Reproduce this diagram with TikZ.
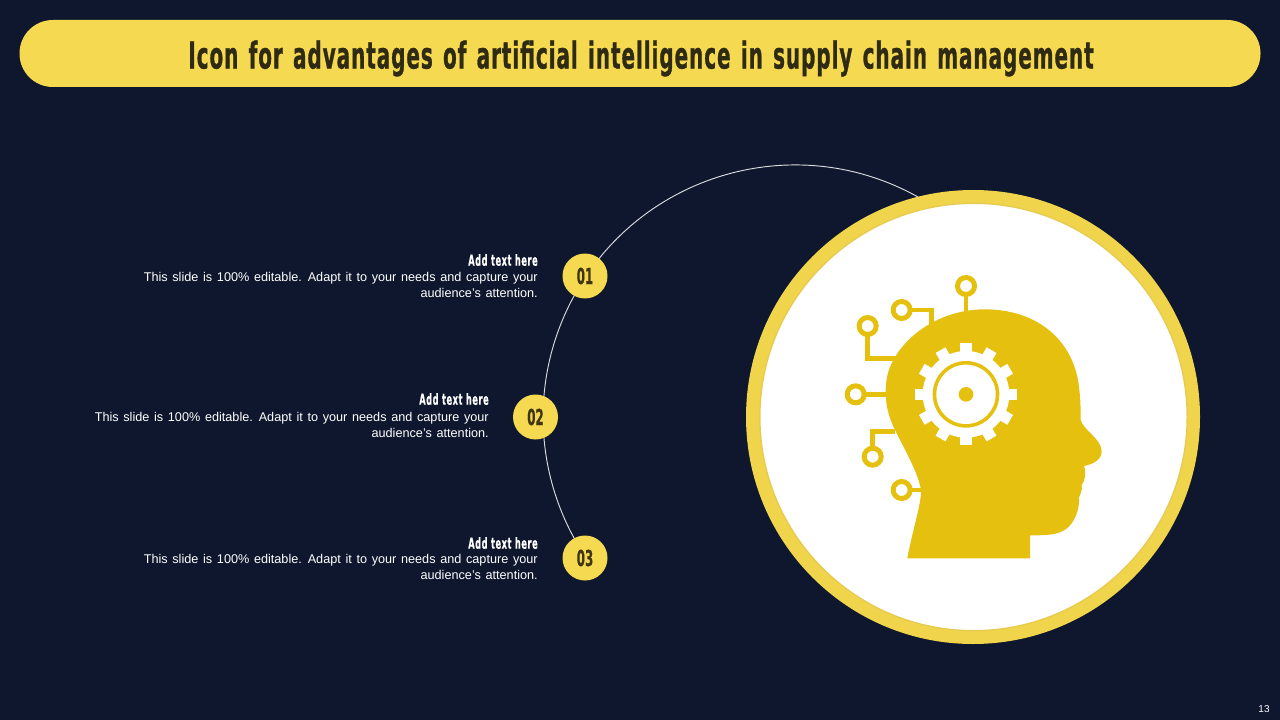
\documentclass[tikz,border=0pt]{standalone}
\usepackage{fontspec}
\setmainfont[WordSpace=1.33]{Liberation Sans}
\newfontfamily\headfont[FakeStretch=0.54,FakeBold=0.8,WordSpace=1.3,LetterSpace=2.6]{DejaVu Sans Bold}
\newfontfamily\labelfont[FakeStretch=0.54,FakeBold=0.3,LetterSpace=3.5]{DejaVu Sans Bold}
\newfontfamily\numfont[FakeStretch=0.54,FakeBold=0.3]{DejaVu Sans Bold}
\definecolor{slidebg}{HTML}{0E172D}
\definecolor{barYellow}{HTML}{F5D950}
\definecolor{ringYellow}{HTML}{F0D44B}
\definecolor{ringShade}{HTML}{E6CB50}
\definecolor{iconYellow}{HTML}{E5C00F}
\definecolor{darkText}{HTML}{2F2A14}
\definecolor{numText}{HTML}{3F3510}
\tikzset{
  numdot/.style={circle,fill=barYellow,minimum size=33.75pt,inner sep=0pt,text=numText,font=\numfont\fontsize{16.5}{18}\selectfont},
  headtxt/.style={anchor=east,inner sep=0pt,text=white,font=\labelfont\fontsize{11.5}{13}\selectfont},
  bodytxt/.style={anchor=north east,inner sep=0pt,text=white,align=right,font=\fontsize{9.5}{12}\selectfont},
  trace/.style={draw=iconYellow,line width=3.5pt},
  pin/.style={draw=iconYellow,fill=white,line width=3.75pt,circle,minimum size=12.75pt,inner sep=0pt},
}
\begin{document}
\begin{tikzpicture}[x=0.75pt,y=-0.75pt]
\fill[slidebg] (0,0) rectangle (1280,720);
\useasboundingbox (0,0) rectangle (1280,720);
% title bar
\node[fill=barYellow,rounded corners=25pt,minimum width=930.75pt,minimum height=50.25pt,inner sep=0pt] (bar) at (640,53.5) {};
\node[text=darkText,font=\headfont\fontsize{27.7}{32}\selectfont,inner sep=0pt] (title) at (641,58.5) {Icon for advantages of artificial intelligence in supply chain management};
% big disc
\node[circle,fill=ringYellow,minimum size=340.5pt,inner sep=0pt] (disc) at (973,417) {};
\node[circle,fill=white,draw=ringShade,line width=1pt,minimum size=320.5pt,inner sep=0pt] (discin) at (973.5,417) {};
% arc
\coordinate (arcstart) at (918,197);
\draw[white!85!slidebg,line width=0.7pt] (arcstart) arc[start angle=-60.8,end angle=-214,radius=252];
% number dots
\node[numdot] (n1) at (585,276) {01};
\node[numdot] (n2) at (535.5,417) {02};
\node[numdot] (n3) at (585,558) {03};
% texts
\node[headtxt] (h1) at (538,260) {Add text here};
\node[bodytxt] (b1) at (538,272) {This slide is 100\% editable. Adapt it to your needs and capture your\\audience's attention.};
\node[headtxt] (h2) at (489,399) {Add text here};
\node[bodytxt] (b2) at (489,412) {This slide is 100\% editable. Adapt it to your needs and capture your\\audience's attention.};
\node[headtxt] (h3) at (538,543) {Add text here};
\node[bodytxt] (b3) at (538,554) {This slide is 100\% editable. Adapt it to your needs and capture your\\audience's attention.};
\node[text=white,inner sep=0pt,font=\fontsize{7.5}{9}\selectfont] (pg) at (1264,709) {13};
% icon, drawn in 3x zoom coordinates
\begin{scope}[shift={(830,260)},x=0.25pt,y=-0.25pt]
\draw[trace] (408,78) -- (408,160);
\draw[trace] (215,150) -- (305,150) -- (305,195);
\draw[trace] (113,198) -- (113,295) -- (200,295);
\draw[trace] (77,403) -- (175,403);
\draw[trace] (128,590) -- (128,515) -- (195,515);
\draw[trace] (215,690) -- (275,690);
\fill[iconYellow] (232,895) -- (600,895) -- (600,826)
  .. controls (660,826) and (700,825) .. (725,790)
  .. controls (742,765) and (748,740) .. (747,712)
  .. controls (752,700) and (757,692) .. (755,675)
  .. controls (765,660) and (770,640) .. (762,618)
  .. controls (790,612) and (815,600) .. (815,572)
  .. controls (812,535) and (760,510) .. (752,480)
  .. controls (752,460) and (752,420) .. (748,390)
  .. controls (735,240) and (620,148) .. (465,148)
  .. controls (320,148) and (205,240) .. (175,335)
  .. controls (160,390) and (165,450) .. (195,510)
  .. controls (225,570) and (265,640) .. (273,690)
  .. controls (275,730) and (245,820) .. (232,895) -- cycle;
% gear
\fill[white] (408,403) circle[radius=130];
\foreach \a in {0,30,...,330}{
  \fill[white,rotate around={\a:(408,403)}] (391,250) rectangle (425,290);
}
\fill[iconYellow] (408,403) circle[radius=100];
\fill[white] (408,403) circle[radius=89];
\fill[iconYellow] (408,403) circle[radius=22];
\node[pin] (p1) at (408,78) {};
\node[pin] (p2) at (215,150) {};
\node[pin] (p3) at (113,198) {};
\node[pin] (p4) at (77,403) {};
\node[pin] (p5) at (128,590) {};
\node[pin] (p6) at (215,690) {};
\end{scope}
\end{tikzpicture}
\end{document}
